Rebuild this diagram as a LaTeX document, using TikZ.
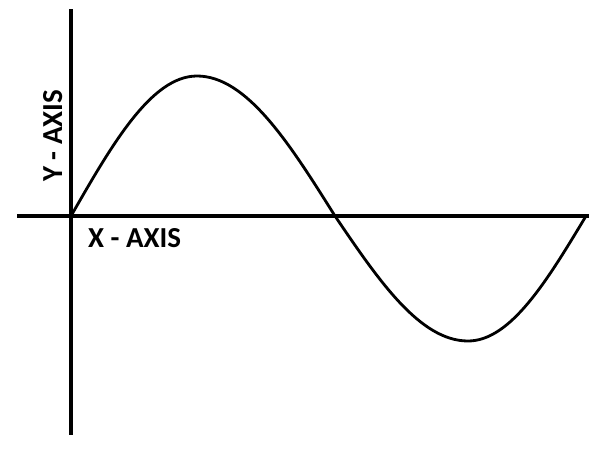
\documentclass[tikz,border=0pt]{standalone}
\usepackage{fontspec}
\setmainfont{Carlito}
\usetikzlibrary{positioning}

\begin{document}
\begin{tikzpicture}[
  x=1pt,y=-1pt,
  axisline/.style={line width=3.6pt,black},
  wave/.style={line width=2.8pt,black,line join=round},
  axislabel/.style={font=\fontsize{29}{31}\selectfont\bfseries,inner sep=0pt},
]
  % Frame
  \useasboundingbox (0,0) rectangle (600,450);

  % Axes
  \coordinate (ytop) at (71,9);
  \coordinate (ybot) at (71,435);
  \coordinate (xleft) at (17,216);
  \coordinate (xright) at (589,216);
  \draw[axisline] (ytop) -- (ybot);
  \draw[axisline] (xleft) -- (xright);

  % Labels
  \node[axislabel,anchor=base west] (xlab) at (88,247) {X - AXIS};
  \node[axislabel,anchor=base west,rotate=90] (ylab) at (62,182) {Y - AXIS};

  % Sine wave
  \coordinate (o) at (71,216);
  \coordinate (peak) at (197,76);
  \coordinate (mid) at (335,216);
  \coordinate (trough) at (468,341);
  \coordinate (end) at (586,216);
  \draw[wave] (o) sin (peak) cos (mid) sin (trough) cos (end);
\end{tikzpicture}
\end{document}
